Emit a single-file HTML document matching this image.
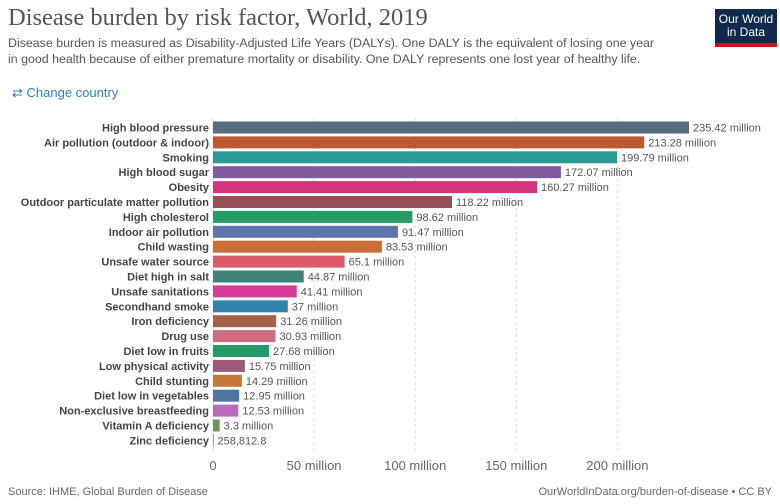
<!DOCTYPE html>
<html><head><meta charset="utf-8"><style>
body{margin:0;width:780px;height:504px;background:#fff;font-family:"Liberation Sans",sans-serif;overflow:hidden;position:relative}
.t{position:absolute;left:8px;top:4px;font-family:"Liberation Serif",serif;font-size:24.5px;color:#555}
.s{position:absolute;left:8px;top:35px;font-size:12.4px;line-height:16px;color:#555;width:700px}
.cc{position:absolute;left:12px;top:85px;font-size:13px;color:#2d7fc8}
.logo{position:absolute;left:715px;top:9px;width:62px;height:38px;background:#0f2a4a;color:#fff;font-size:12px;line-height:13px;text-align:center;border-bottom:4px solid #c4161c;box-sizing:border-box;padding-top:4px}
.f1{position:absolute;left:8px;top:486px;font-size:11px;color:#666}
.f2{position:absolute;right:8px;top:486px;font-size:11px;color:#666}
</style></head><body>
<div class="t">Disease burden by risk factor, World, 2019</div>
<div class="s">Disease burden is measured as Disability-Adjusted Life Years (DALYs). One DALY is the equivalent of losing one year<br>in good health because of either premature mortality or disability. One DALY represents one lost year of healthy life.</div>
<div class="cc">⇄ Change country</div>
<div class="logo">Our World<br>in Data</div>
<svg id="c" width="780" height="504" style="position:absolute;left:0;top:0"></svg>
<div class="f1">Source: IHME, Global Burden of Disease</div>
<div class="f2">OurWorldInData.org/burden-of-disease • CC BY</div>
<script>
const categories=["High blood pressure","Air pollution (outdoor & indoor)","Smoking","High blood sugar","Obesity","Outdoor particulate matter pollution","High cholesterol","Indoor air pollution","Child wasting","Unsafe water source","Diet high in salt","Unsafe sanitations","Secondhand smoke","Iron deficiency","Drug use","Diet low in fruits","Low physical activity","Child stunting","Diet low in vegetables","Non-exclusive breastfeeding","Vitamin A deficiency","Zinc deficiency"];
const values=[235.42,213.28,199.79,172.07,160.27,118.22,98.62,91.47,83.53,65.1,44.87,41.41,37,31.26,30.93,27.68,15.75,14.29,12.95,12.53,3.3,0.2588128];
const valueLabels=["235.42 million","213.28 million","199.79 million","172.07 million","160.27 million","118.22 million","98.62 million","91.47 million","83.53 million","65.1 million","44.87 million","41.41 million","37 million","31.26 million","30.93 million","27.68 million","15.75 million","14.29 million","12.95 million","12.53 million","3.3 million","258,812.8"];
const colors=["#586a7e","#c0582f","#2a9a94","#7f5a9f","#d4347b","#974f59","#279b66","#5e74aa","#c86f37","#dc5a6b","#3e8373","#d83a98","#2e84a8","#a3634a","#cf6a82","#249a6a","#9c5a78","#c5773a","#4d75a0","#b86bb8","#6b9559","#d88aa0"];
const ticks=[0,50,100,150,200];
const tickLabels=["0","50 million","100 million","150 million","200 million"];
const svg=document.getElementById('c'),NS="http://www.w3.org/2000/svg";
const x0=213,kx=(689-213)/235.42,y0=121.5,step=14.9,bh=12;
const X=v=>x0+v*kx, Y=i=>y0+i*step;
function mk(t,a){const e=document.createElementNS(NS,t);for(const k in a)e.setAttribute(k,a[k]);svg.appendChild(e);return e;}
ticks.forEach((t,i)=>{
 const l=mk('line',{x1:X(t),x2:X(t),y1:118,y2:452,stroke:'#ddd','stroke-dasharray':i?'3,3':'0'});
 
 
 const tx=mk('text',{x:X(t),y:470,'text-anchor':'middle','font-size':13,fill:'#666'});
 tx.textContent=tickLabels[i];
 
 
});
const n=Math.min(categories.length,values.length);
for(let i=0;i<n;i++){
 const yy=Y(i);
 const r=mk('rect',{x:x0,y:yy,width:Math.max(1,X(values[i])-x0),height:bh,fill:colors[i%colors.length]});
 
 
 const lb=mk('text',{x:209,y:yy+10,'text-anchor':'end','font-size':11,'font-weight':'bold',fill:'#444'});
 lb.textContent=categories[i];
 
 
 const vl=mk('text',{x:X(values[i])+4,y:yy+10,'font-size':11,fill:'#555'});
 vl.textContent=valueLabels[i];
 
 
}
</script>
</body></html>
